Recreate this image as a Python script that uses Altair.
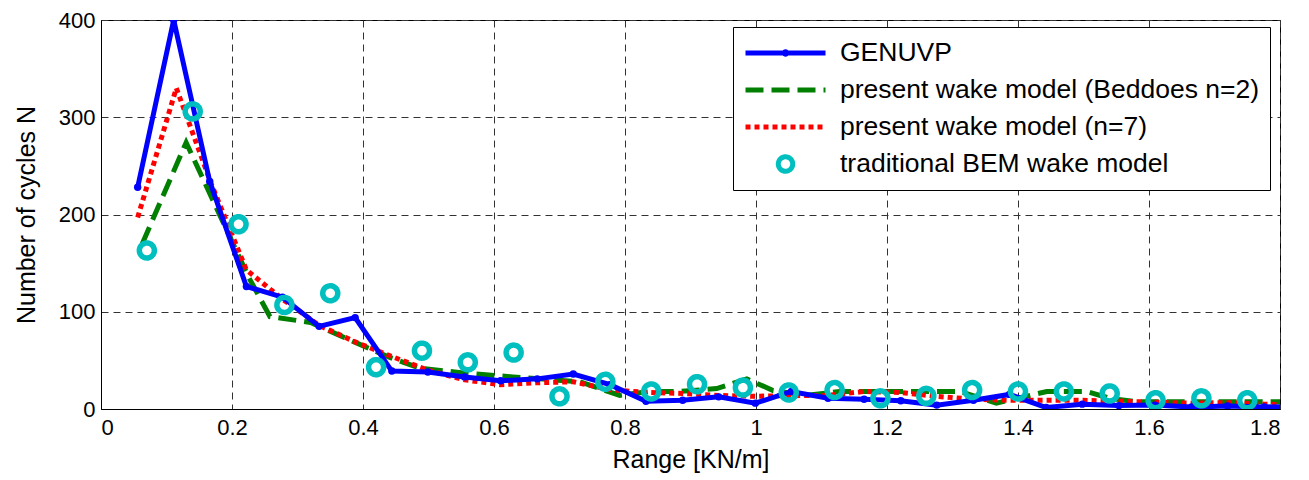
import altair as alt
import pandas as pd

# ---------------- data ----------------
series_names = [
    "GENUVP",
    "present wake model (Beddoes n=2)",
    "present wake model (n=7)",
    "traditional BEM wake model",
]

x_genuvp = [0.056, 0.111, 0.166, 0.222, 0.277, 0.333, 0.388, 0.444, 0.499, 0.555,
            0.610, 0.666, 0.721, 0.777, 0.832, 0.888, 0.943, 0.999, 1.054, 1.110,
            1.165, 1.221, 1.276, 1.332, 1.387, 1.443, 1.498, 1.554, 1.609, 1.665,
            1.720, 1.776, 1.832]
y_genuvp = [228, 400, 234, 126, 115, 85, 94, 39, 38, 33,
            29, 31, 36, 25, 8, 9, 12.5, 6, 18, 11,
            10, 8.5, 4, 9, 15, 1.5, 5, 3.5, 4, 2, 3, 2, 3]

x_n7 = [0.056, 0.115, 0.168, 0.222, 0.277, 0.333, 0.388, 0.444, 0.499, 0.555,
        0.610, 0.666, 0.721, 0.777, 0.832, 0.888, 0.943, 0.999, 1.054, 1.110,
        1.165, 1.221, 1.276, 1.332, 1.387, 1.443, 1.498, 1.554, 1.609, 1.665,
        1.720, 1.776, 1.832]
y_n7 = [197, 330, 232, 143, 113, 86, 69, 54, 40, 30,
        25, 27, 28, 20, 17, 16, 14, 13, 14, 14,
        18, 17, 13, 10, 9, 9, 9, 8, 7, 6, 6.5, 5, 4]

x_beddoes = [0.063, 0.130, 0.225, 0.258, 0.320, 0.390, 0.441, 0.487, 0.553, 0.629,
             0.731, 0.792, 0.838, 0.884, 0.940, 0.986, 1.026, 1.077, 1.128, 1.311,
             1.367, 1.444, 1.505, 1.540, 1.581, 1.800]
y_beddoes = [170, 274, 136, 95, 89, 68, 53, 42, 37, 33,
             28, 14, 18, 18, 21, 31, 19, 14, 18, 18,
             6, 18, 18, 11, 7.5, 7.5]

x_bem = [0.07, 0.14, 0.21, 0.28, 0.35, 0.42, 0.49, 0.56, 0.63, 0.70,
         0.77, 0.84, 0.91, 0.98, 1.05, 1.12, 1.19, 1.26, 1.33, 1.40,
         1.47, 1.54, 1.61, 1.68, 1.75]
y_bem = [163, 306, 190, 107, 119, 43, 60, 48, 58, 13,
         28, 18, 25.5, 22, 17, 19.5, 11, 13.5, 19.5, 18,
         18, 16, 9, 11, 9]

x_ticks = [0, 0.2, 0.4, 0.6, 0.8, 1.0, 1.2, 1.4, 1.6, 1.8]
y_ticks = [0, 100, 200, 300, 400]

# ---------------- styles ----------------
colors = ["#0000FF", "#007F00", "#FF0000", "#00BFBF"]
dashes = [[1, 0], [18, 8], [5, 4], [1, 0]]
dot = "M0.03,0A0.03,0.03,0,1,1,-0.03,0A0.03,0.03,0,1,1,0.03,0"
ring = "M0.18,0A0.18,0.18,0,1,1,-0.18,0A0.18,0.18,0,1,1,0.18,0"
shapes = ["M-1,0H1" + dot, "M-1,0H1", "M-1,0H1", ring]

genuvp = pd.DataFrame({"series": series_names[0], "x": x_genuvp, "y": y_genuvp})
beddoes = pd.DataFrame({"series": series_names[1], "x": x_beddoes, "y": y_beddoes})
n7 = pd.DataFrame({"series": series_names[2], "x": x_n7, "y": y_n7})
bem = pd.DataFrame({"series": series_names[3], "x": x_bem, "y": y_bem})

FONT = "Liberation Sans"

x_enc = alt.X("x:Q",
              scale=alt.Scale(domain=[0, 1.8], nice=False, zero=False),
              axis=alt.Axis(values=x_ticks, format="~g", title="Range [KN/m]"))
y_enc = alt.Y("y:Q",
              scale=alt.Scale(domain=[0, 400], nice=False),
              axis=alt.Axis(values=y_ticks, title="Number of cycles N"))

green_layer = alt.Chart(beddoes).mark_line(
    strokeWidth=5, clip=True, strokeCap="butt", color=colors[1], strokeDash=dashes[1]
).encode(x=x_enc, y=y_enc)

red_layer = alt.Chart(n7).mark_line(
    strokeWidth=5, clip=True, strokeCap="butt", color=colors[2], strokeDash=dashes[2]
).encode(x=x_enc, y=y_enc)

blue_layer = alt.Chart(genuvp).mark_line(
    strokeWidth=5, clip=True, color=colors[0]
).encode(x=x_enc, y=y_enc)

dots_layer = alt.Chart(genuvp).mark_point(
    filled=True, size=55, opacity=1, clip=True, color=colors[0]
).encode(x=x_enc, y=y_enc)

legend = alt.Legend(
    title=None, orient="none", legendX=632, legendY=7,
    symbolSize=6400, symbolStrokeWidth=5, symbolOpacity=1,
    labelFontSize=26.5, labelFont=FONT, labelColor="black", labelLimit=0,
    labelOffset=12, strokeColor="black", fillColor="white",
    padding=10, clipHeight=32, rowPadding=5,
)

bem_layer = alt.Chart(bem).mark_point(
    filled=False, strokeWidth=5.5, size=6944, opacity=1, clip=True
).encode(
    x=x_enc, y=y_enc,
    color=alt.Color("series:N", scale=alt.Scale(domain=series_names, range=colors),
                    legend=legend),
    shape=alt.Shape("series:N", scale=alt.Scale(domain=series_names, range=shapes),
                    legend=legend),
    strokeDash=alt.StrokeDash("series:N", scale=alt.Scale(domain=series_names, range=dashes),
                              legend=legend),
)

chart = alt.layer(green_layer, red_layer, blue_layer, dots_layer, bem_layer).properties(
    width=1179, height=389,
    autosize=alt.AutoSizeParams(type="none"),
    padding={"left": 93, "top": 12, "right": 21, "bottom": 75},
).configure(font=FONT).configure_view(
    stroke="black", strokeWidth=1
).configure_axis(
    grid=True, gridColor="#333333", gridDash=[7, 5], gridWidth=1, gridOpacity=1,
    domain=True, domainColor="black", domainWidth=1,
    ticks=False,
    labelFont=FONT, labelFontSize=22, labelColor="black",
    titleFont=FONT, titleFontSize=25, titleFontWeight="normal", titleColor="black",
).configure_axisX(
    labelPadding=8, titlePadding=9,
).configure_axisY(
    labelPadding=6, titlePadding=19,
)

chart.save("out.html", embed_options={"renderer": "svg", "actions": False})
